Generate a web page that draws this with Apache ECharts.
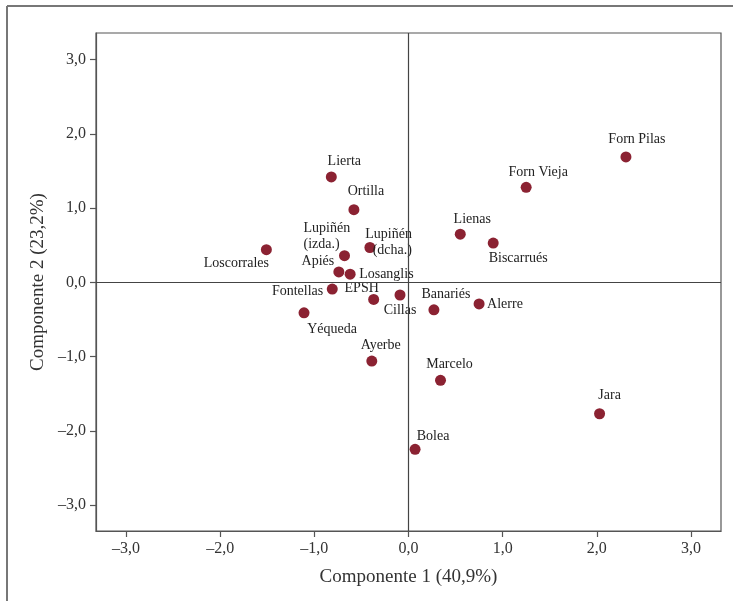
<!DOCTYPE html>
<html><head><meta charset="utf-8">
<script src="https://cdn.jsdelivr.net/npm/echarts@6/dist/echarts.min.js"></script>
<style>html,body{margin:0;padding:0;background:#fff}#c{width:733px;height:601px}</style>
</head><body><div id="c"></div>
<script>
// ---- data ----
const names = ['Forn Pilas','Forn Vieja','Lienas','Biscarrués','Alerre','Banariés','Cillas','EPSH','Losanglis','Fontellas','Apiés','Lupiñén\n(izda.)','Lupiñén\n(dcha.)','Loscorrales','Lierta','Ortilla','Yéqueda','Ayerbe','Marcelo','Jara','Bolea'];
const pc1 = [2.31, 1.25, 0.55, 0.90, 0.75, 0.27, -0.09, -0.37, -0.62, -0.81, -0.74, -0.68, -0.41, -1.51, -0.82, -0.58, -1.11, -0.39, 0.34, 2.03, 0.07];
const pc2 = [1.69, 1.28, 0.65, 0.53, -0.29, -0.37, -0.17, -0.23, 0.11, -0.09, 0.14, 0.36, 0.47, 0.44, 1.42, 0.98, -0.41, -1.06, -1.32, -1.77, -2.25];
const tickValues = [-3, -2, -1, 0, 1, 2, 3];
const xTitle = 'Componente 1 (40,9%)';
const yTitle = 'Componente 2 (23,2%)';

// ---- label placement (style, not data) ----
const labelPlacement = {
  'Forn Pilas': ['center', 11, -18],
  'Forn Vieja': ['center', 12, -15],
  'Lienas': ['center', 12, -15],
  'Biscarrués': ['center', 25, 15],
  'Alerre': ['left', 8, 0],
  'Banariés': ['center', 12, -16],
  'Cillas': ['center', 0, 15],
  'EPSH': ['center', -12, -11],
  'Losanglis': ['left', 9, 0],
  'Fontellas': ['right', -9, 2],
  'Apiés': ['center', -21, -11],
  'Lupiñén\n(izda.)': ['left', -41, -19],
  'Lupiñén\n(dcha.)': ['right', 42, -5],
  'Loscorrales': ['center', -30, 14],
  'Lierta': ['center', 13, -16],
  'Ortilla': ['center', 12, -18],
  'Yéqueda': ['center', 28, 17],
  'Ayerbe': ['center', 9, -16],
  'Marcelo': ['center', 9, -16],
  'Jara': ['center', 10, -18],
  'Bolea': ['center', 18, -13]
};

const serif = "'Liberation Serif','DejaVu Serif',serif";
const fmt = v => (v < 0 ? '\u2013' : '') + Math.abs(v).toFixed(1).replace('.', ',');

const points = names.map((n, i) => {
  const p = labelPlacement[n];
  return { name: n, value: [pc1[i], pc2[i]], label: { align: p[0], offset: [p[1], p[2]] } };
});

function axisBase(isX) {
  return {
    type: 'value',
    min: isX ? -3.32 : -3.35,
    max: isX ? 3.32 : 3.36,
    axisLine: { show: true, onZero: false, lineStyle: { color: '#555', width: 1.2 } },
    axisTick: { show: true, inside: false, length: 6, customValues: tickValues, lineStyle: { color: '#555', width: 1.2 } },
    axisLabel: { customValues: tickValues, formatter: fmt, fontFamily: serif, fontSize: 16, color: '#333', margin: 10 },
    splitLine: { show: false },
    name: isX ? xTitle : yTitle,
    nameLocation: 'middle',
    nameGap: isX ? 37 : 46,
    nameRotate: isX ? 0 : 90,
    nameTextStyle: { fontFamily: serif, fontSize: 19, color: '#333' }
  };
}

const chart = echarts.init(document.getElementById('c'), null, { renderer: 'canvas' });
chart.setOption({
  animation: false,
  backgroundColor: '#fff',
  grid: { left: 96, top: 33, right: 12, bottom: 70, show: true, borderColor: '#555', borderWidth: 1.2, containLabel: false },
  xAxis: axisBase(true),
  yAxis: axisBase(false),
  graphic: [
    { type: 'line', shape: { x1: 7, y1: 6, x2: 733, y2: 6 }, style: { stroke: '#777', lineWidth: 2 } },
    { type: 'line', shape: { x1: 7, y1: 6, x2: 7, y2: 601 }, style: { stroke: '#777', lineWidth: 2 } }
  ],
  series: [{
    type: 'scatter',
    symbol: 'circle',
    symbolSize: 11,
    itemStyle: { color: '#8b2232', opacity: 1 },
    label: {
      show: true,
      position: 'inside',
      formatter: '{b}',
      fontFamily: serif,
      fontSize: 14,
      color: '#222',
      lineHeight: 16,
      verticalAlign: 'middle'
    },
    data: points,
    markLine: {
      silent: true,
      symbol: 'none',
      label: { show: false },
      lineStyle: { color: '#444', width: 1.2, type: 'solid' },
      data: [{ xAxis: 0 }, { yAxis: 0 }]
    }
  }]
});
</script>
</body></html>
